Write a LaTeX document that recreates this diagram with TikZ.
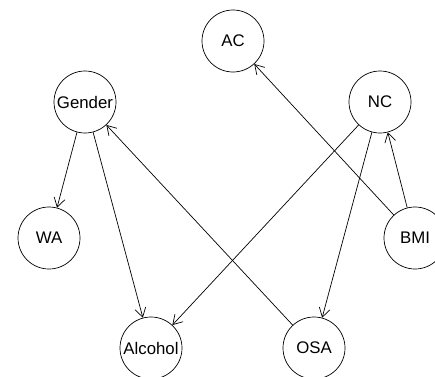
\documentclass[tikz,border=0pt]{standalone}
\usepackage{fontspec}
\setmainfont{Liberation Sans}
\usetikzlibrary{arrows.meta}
\begin{document}
\begin{tikzpicture}[x=1bp,y=1bp,
  var/.style={circle,draw,line width=0.7bp,minimum size=62bp,inner sep=0pt,font=\fontsize{16.8bp}{18bp}\selectfont},
  edge/.style={line width=0.7bp,-{Straight Barb[length=9bp,width=11bp,line width=0.7bp]}}]
\useasboundingbox (0,0) rectangle (435,376);
\clip (0,0) rectangle (435,376);
\node[var] (AC) at (233,335) {AC};
\node[var] (Gender) at (85,274) {Gender};
\node[var] (NC) at (380,274) {NC};
\node[var] (WA) at (49,138) {WA};
\node[var] (BMI) at (415,138) {BMI};
\node[var] (Alcohol) at (151,28) {Alcohol};
\node[var] (OSA) at (314,28) {OSA};
\draw[edge] (Gender) -- (WA);
\draw[edge] (Gender) -- (Alcohol);
\draw[edge] (OSA) -- (Gender);
\draw[edge] (NC) -- (Alcohol);
\draw[edge] (NC) -- (OSA);
\draw[edge] (BMI) -- (NC);
\draw[edge] (BMI) -- (AC);
\end{tikzpicture}
\end{document}
